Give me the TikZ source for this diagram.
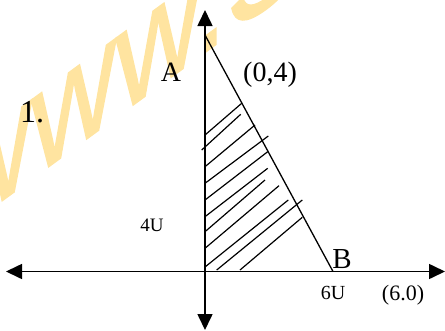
\documentclass[tikz,border=0pt]{standalone}
\usepackage{fontspec}
\setmainfont{Liberation Serif}
\newfontfamily\wmfont[FakeBold=1.2]{Liberation Sans}
\usetikzlibrary{arrows.meta, positioning}
\definecolor{wmark}{RGB}{255,228,160}

\begin{document}
\begin{tikzpicture}[x=1pt, y=-1pt,
        axis/.style={line width=1.6pt, {Triangle[length=16pt,width=15pt]}-{Triangle[length=16pt,width=15pt]}},
        edge/.style={line width=1.3pt},
        hatch/.style={line width=1.2pt},
        lbl/.style={inner sep=0pt}]
        \useasboundingbox (0,0) rectangle (445,330);
        \clip (0,0) rectangle (445,330);
        \begin{scope}[shift={(-53,241)}, cm={0.78,0.57,0,1,(0,0)}]
            \node (wm) [transform shape, anchor=base west, text=wmark, inner sep=0pt, font=\wmfont\fontsize{150}{150}\selectfont] at (0,0) {www.S};
        \end{scope}

        \coordinate (O) at (205,271.5);
        \coordinate (ytop) at (205,10);
        \coordinate (ybot) at (205,330);
        \coordinate (xl) at (6,271.5);
        \coordinate (xr) at (445,271.5);
        \coordinate (A) at (205,35);
        \coordinate (B) at (333,271.5);

        \draw[axis] (xl) -- (xr);
        \draw[axis] (ybot) -- (ytop);
        \draw[edge] (A) -- (B);
        \draw[edge] (O) -- (B);

        \foreach \xa/\ya/\xb/\yb in {205/135/241.7/103.3, 201.7/150/240.7/114.3, 205/166.7/255/125,
            205/183.3/268.3/136, 205/200/267.7/151.7, 205/216.7/267.7/168.3, 205/231.7/265/180,
            205/248.3/279/185.7, 205/267/288.3/200, 216.7/270/302.3/200, 240/270/302.3/217.3}
            \draw[hatch] (\xa,\ya) -- (\xb,\yb);

        \node (num) [lbl, font=\fontsize{32}{32}\selectfont] at (32,112) {1.};
        \node (Alab) [lbl, font=\fontsize{28}{28}\selectfont] at (171,72) {A};
        \node (Acoord) [lbl, font=\fontsize{28}{28}\selectfont] at (270,75) {(0,4)};
        \node (ylen) [lbl, font=\fontsize{19}{19}\selectfont] at (152,225) {4U};
        \node (Blab) [lbl, font=\fontsize{29}{29}\selectfont] at (342,259) {B};
        \node (xlen) [lbl, font=\fontsize{20}{20}\selectfont] at (333,293) {6U};
        \node (Bcoord) [lbl, font=\fontsize{22}{22}\selectfont] at (403,295) {(6.0)};
    \end{tikzpicture}
\end{document}
